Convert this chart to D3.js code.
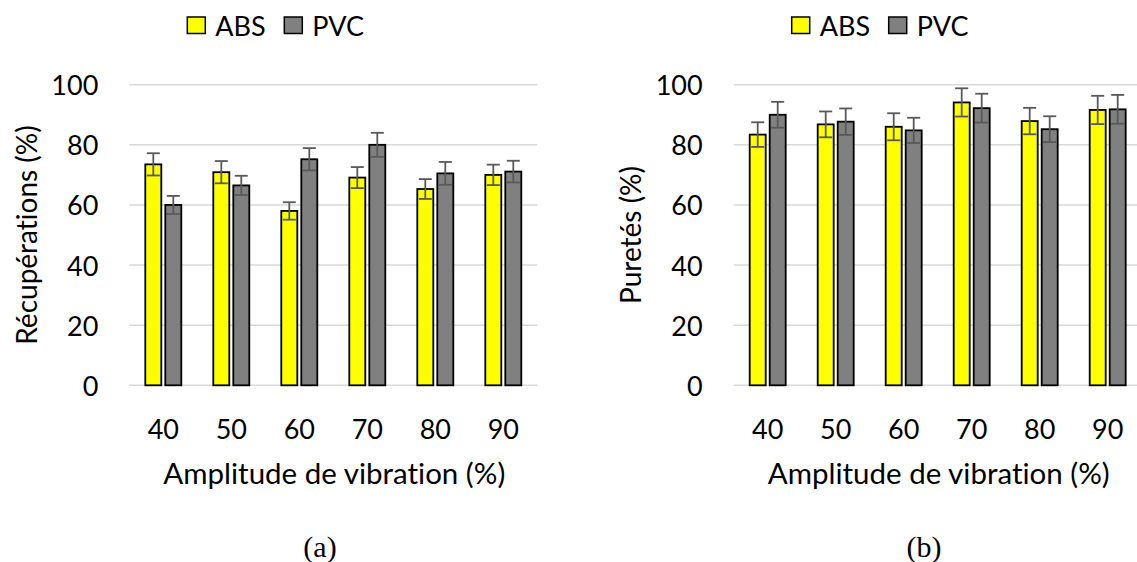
<!DOCTYPE html>
<html>
<head>
<meta charset="utf-8">
<script src="https://cdn.jsdelivr.net/npm/d3@7/dist/d3.min.js"></script>
<style>
  html, body { margin: 0; padding: 0; background: #fff; }
  svg { display: block; }
  text { font-family: Lato, "Open Sans", sans-serif; fill: #000; font-variant-ligatures: none; font-feature-settings: "liga" 0, "clig" 0; }
  .cap { font-family: "Liberation Serif", "DejaVu Serif", serif; }
</style>
</head>
<body>
<svg id="chart" width="1137" height="562"></svg>
<script>
// ---- data ----
const categories = ["40", "50", "60", "70", "80", "90"];
const seriesNames = ["ABS", "PVC"];
const yTicks = [0, 20, 40, 60, 80, 100];

// (a) Récupérations
const recovABS    = [73.5, 70.9, 58.0, 69.1, 65.3, 70.0];
const recovABSErr = [3.7, 3.7, 2.9, 3.5, 3.3, 3.4];
const recovPVC    = [60.0, 66.5, 75.2, 80.0, 70.5, 71.1];
const recovPVCErr = [3.0, 3.2, 3.7, 4.0, 3.8, 3.6];

// (b) Puretés
const purABS    = [83.4, 86.8, 86.0, 94.1, 87.9, 91.6];
const purABSErr = [4.1, 4.3, 4.5, 4.7, 4.4, 4.7];
const purPVC    = [90.0, 87.7, 84.8, 92.2, 85.2, 91.8];
const purPVCErr = [4.3, 4.4, 4.2, 4.8, 4.3, 4.8];

const xTitle = "Amplitude de vibration (%)";
const colors = { ABS: "#FFFF00", PVC: "#808080" };

const svg = d3.select("#chart");

function panel(opts) {
  const g = svg.append("g");
  const x0 = d3.scaleBand().domain(categories).range([opts.left, opts.left + 408]).padding(0);
  const x1 = d3.scaleBand().domain(seriesNames).range([16, 52]).paddingInner(0.2).paddingOuter(0);
  const y = d3.scaleLinear().domain([0, 100]).range([385.3, 84.7]);

  // gridlines
  g.append("g").selectAll("line").data(yTicks).join("line")
    .attr("x1", opts.left).attr("x2", opts.left + 408)
    .attr("y1", d => y(d)).attr("y2", d => y(d))
    .attr("stroke", "#d9d9d9").attr("stroke-width", 1.5);

  // y tick labels
  g.append("g").selectAll("text").data(yTicks).join("text")
    .attr("x", opts.left - 31).attr("y", d => y(d))
    .attr("text-anchor", "end").attr("dominant-baseline", "central")
    .style("font-size", "27px").text(d => d);

  // x tick labels
  g.append("g").selectAll("text").data(categories).join("text")
    .attr("x", d => x0(d) + x0.bandwidth() / 2).attr("y", 428)
    .attr("text-anchor", "middle").attr("dominant-baseline", "central")
    .style("font-size", "27px").text(d => d);

  const rows = categories.map((c, i) => ({
    cat: c,
    vals: [
      { s: "ABS", v: opts.abs[i], e: opts.absErr[i] },
      { s: "PVC", v: opts.pvc[i], e: opts.pvcErr[i] }
    ]
  }));

  const grp = g.append("g").selectAll("g").data(rows).join("g")
    .attr("transform", d => `translate(${x0(d.cat)},0)`);

  grp.selectAll("rect").data(d => d.vals).join("rect")
    .attr("x", d => x1(d.s)).attr("width", x1.bandwidth())
    .attr("y", d => y(d.v)).attr("height", d => y(0) - y(d.v))
    .attr("fill", d => colors[d.s]).attr("stroke", "#000").attr("stroke-width", 1.8);

  // error bars
  const eb = grp.selectAll("g.eb").data(d => d.vals).join("g").attr("class", "eb")
    .attr("stroke", "#595959").attr("stroke-width", 1.8);
  eb.append("line")
    .attr("x1", d => x1(d.s) + x1.bandwidth() / 2).attr("x2", d => x1(d.s) + x1.bandwidth() / 2)
    .attr("y1", d => y(d.v + d.e)).attr("y2", d => y(d.v - d.e));
  eb.append("line")
    .attr("x1", d => x1(d.s) + x1.bandwidth() / 2 - 6.5).attr("x2", d => x1(d.s) + x1.bandwidth() / 2 + 6.5)
    .attr("y1", d => y(d.v + d.e)).attr("y2", d => y(d.v + d.e));
  eb.append("line")
    .attr("x1", d => x1(d.s) + x1.bandwidth() / 2 - 6.5).attr("x2", d => x1(d.s) + x1.bandwidth() / 2 + 6.5)
    .attr("y1", d => y(d.v - d.e)).attr("y2", d => y(d.v - d.e));

  // axis titles
  g.append("text")
    .attr("x", opts.left + 205).attr("y", 484)
    .attr("text-anchor", "middle").style("font-size", "29.5px").text(xTitle);
  g.append("text")
    .attr("transform", `translate(${opts.yTitleX},235) rotate(-90)`)
    .attr("text-anchor", "middle").attr("dominant-baseline", "central")
    .style("font-size", "28px").text(opts.yTitle);

  // legend
  const lg = g.append("g").attr("transform", `translate(${opts.left + 58},0)`);
  const items = [{ s: "ABS", dx: 0 }, { s: "PVC", dx: 97 }];
  const it = lg.selectAll("g").data(items).join("g").attr("transform", d => `translate(${d.dx},0)`);
  it.append("rect").attr("x", 0).attr("y", 17).attr("width", 18).attr("height", 16.5)
    .attr("fill", d => colors[d.s]).attr("stroke", "#000").attr("stroke-width", 1.5);
  it.append("text").attr("x", 28).attr("y", 25).attr("dominant-baseline", "central")
    .style("font-size", "27px").text(d => d.s);

  // caption
  g.append("text").attr("class", "cap")
    .attr("x", opts.capX).attr("y", 557).attr("text-anchor", "middle")
    .style("font-size", "30px").text(opts.caption);
}

panel({ left: 129.3, abs: recovABS, absErr: recovABSErr, pvc: recovPVC, pvcErr: recovPVCErr,
        yTitle: "Récupérations (%)", yTitleX: 26, caption: "(a)", capX: 320 });
panel({ left: 733.7, abs: purABS, absErr: purABSErr, pvc: purPVC, pvcErr: purPVCErr,
        yTitle: "Puretés (%)", yTitleX: 630, caption: "(b)", capX: 924 });
</script>
</body>
</html>
